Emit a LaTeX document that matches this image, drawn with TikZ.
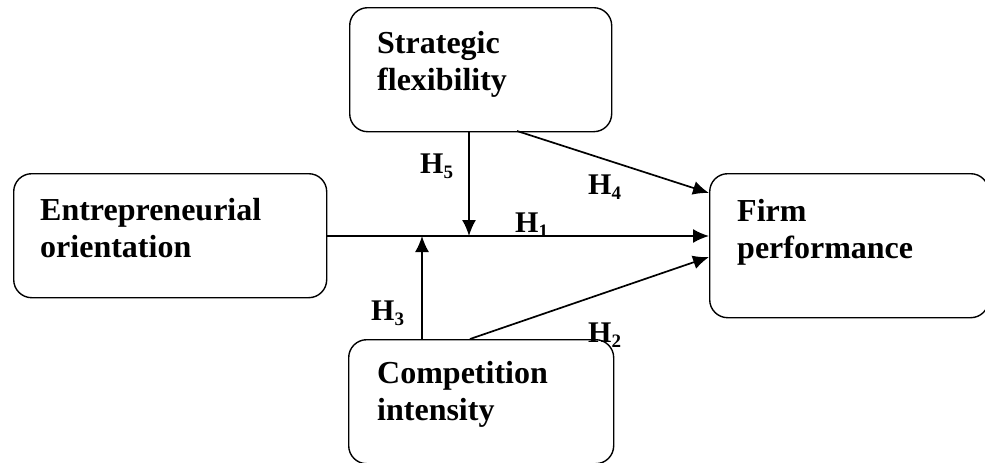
\documentclass[tikz,border=0pt]{standalone}
\usepackage{fontspec}
\setmainfont{Liberation Serif}
\usetikzlibrary{arrows.meta}
\newcommand{\hlab}[1]{H\raisebox{-5pt}{\fontsize{19}{19}\selectfont #1}}
\begin{document}
\begin{tikzpicture}[x=1pt,y=-1pt,
  box/.style={draw=black, line width=1.4pt, rounded corners=18pt, anchor=north west, inner sep=0pt},
  lbl/.style={anchor=base west, align=left, inner sep=0pt, font=\bfseries\fontsize{32}{37}\selectfont},
  hyp/.style={anchor=base west, inner sep=0pt, font=\bfseries\fontsize{30}{30}\selectfont},
  conn/.style={line width=1.7pt, -{Latex[length=16pt,width=14pt]}}]
\useasboundingbox (0,0) rectangle (985,463);
% boxes
\node[box, minimum width=262pt, minimum height=124pt] (sf) at (349,7) {};
\node[box, minimum width=313pt, minimum height=124pt] (eo) at (13,173) {};
\node[box, minimum width=279pt, minimum height=144pt] (fp) at (709,173) {};
\node[box, minimum width=265pt, minimum height=124pt] (ci) at (348,339) {};
% texts (anchored at the baseline of the last line)
\node[lbl] (sft) at (377,90) {Strategic\\flexibility};
\node[lbl] (eot) at (40,257) {Entrepreneurial\\orientation};
\node[lbl] (fpt) at (737,258) {Firm\\performance};
\node[lbl] (cit) at (377,420) {Competition\\intensity};
% junction coordinates
\coordinate (j5) at (469,236);
\coordinate (j3) at (422,236);
\coordinate (s4) at (517,131);
\coordinate (e4) at (709,193);
\coordinate (s2) at (470,339);
\coordinate (e2) at (709,257);
\coordinate (e1) at (709,236);
\coordinate (s1) at (326,236);
% connectors
\draw[conn] (s1) -- (e1);
\draw[conn] (j5 |- sf.south) -- (j5);
\draw[conn] (j3 |- ci.north) -- (j3);
\draw[conn] (s4) -- (e4);
\draw[conn] (s2) -- (e2);
% hypothesis labels
\node[hyp] (h5) at (420,173) {\hlab{5}};
\node[hyp] (h4) at (588,194) {\hlab{4}};
\node[hyp] (h1) at (515,232) {\hlab{1}};
\node[hyp] (h3) at (371,320) {\hlab{3}};
\node[hyp] (h2) at (588,342) {\hlab{2}};
\end{tikzpicture}
\end{document}
